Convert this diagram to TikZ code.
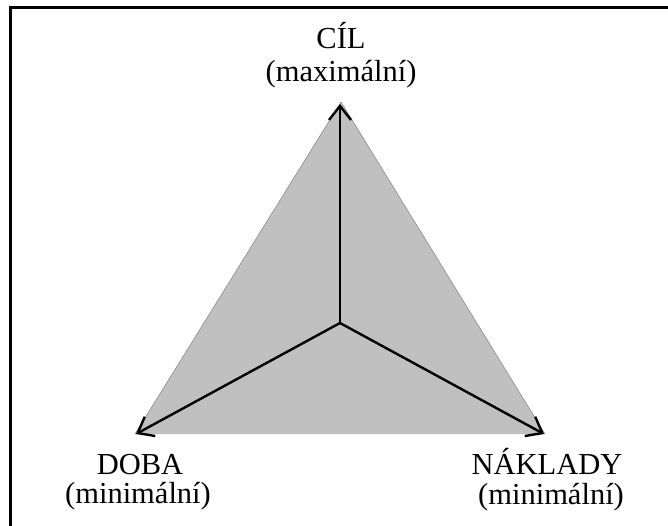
\documentclass[tikz,border=0pt]{standalone}
\usepackage{fontspec}
\setmainfont{Liberation Serif}
\usetikzlibrary{arrows.meta}
\definecolor{fieldgray}{RGB}{192,192,192}
\definecolor{edgegray}{RGB}{140,140,140}
\begin{document}
\begin{tikzpicture}[x=1pt,y=-1pt,
  axis/.style={line width=2.4pt,-{Straight Barb[length=14pt,width=22pt,line width=2.4pt]}},
  lbl/.style={font=\fontsize{30.5}{34}\selectfont,inner sep=0pt,anchor=base}]
  \useasboundingbox (0,0) rectangle (668,526);
  \begin{scope}
    \clip (0,0) rectangle (668,526);
    \draw[line width=3pt] (10,8) rectangle (700,560);
  \end{scope}
  % corners of the triangle and its centre
  \coordinate (top) at (341,102);
  \coordinate (left) at (135,434);
  \coordinate (right) at (545,434);
  \coordinate (mid) at (340,323);
  \fill[fieldgray] (top) -- (left) -- (right) -- cycle;
  \draw[edgegray,line width=0.6pt] (top) -- (left) (top) -- (right);
  \draw[axis] (mid) -- (340,104);
  \draw[axis] (mid) -- (136,434);
  \draw[axis] (mid) -- (544,434);
  % labels
  \node[lbl] (cil) at (341,49) {CÍL};
  \node[lbl] (cilsub) at (341,82) {(maximální)};
  \node[lbl] (doba) at (140,474) {DOBA};
  \node[lbl] (dobasub) at (138,503) {(minimální)};
  \node[lbl] (naklady) at (547,474) {NÁKLADY};
  \node[lbl] (nakladysub) at (551,504) {(minimální)};
\end{tikzpicture}
\end{document}
